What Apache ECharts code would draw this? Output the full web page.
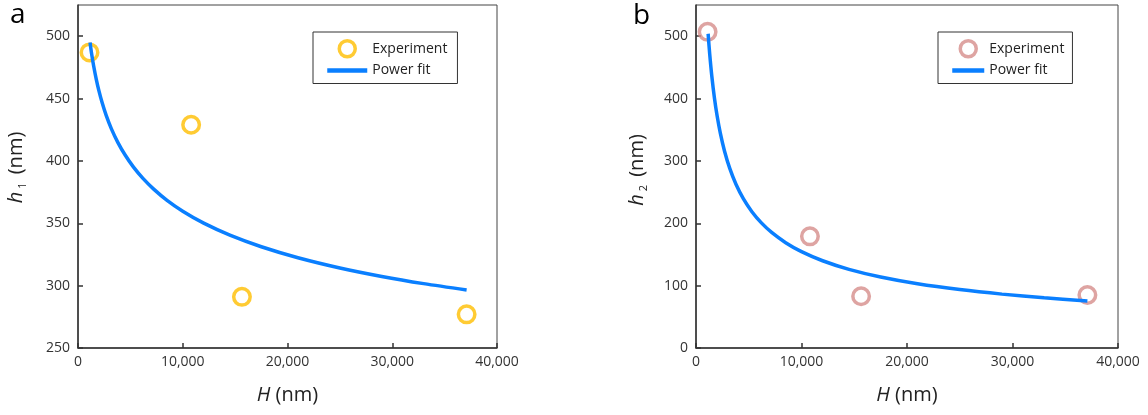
<!DOCTYPE html>
<html>
<head>
<meta charset="utf-8">
<script src="https://cdn.jsdelivr.net/npm/echarts@6/dist/echarts.min.js"></script>
<style>
html,body{margin:0;padding:0;background:#fff;}
#chart{width:1148px;height:415px;}
</style>
</head>
<body>
<div id="chart"></div>
<script>
// ---- data ----
const H_EXP = [1100, 10800, 15650, 37100];          // H (nm), experiment points
const H1_EXP = [487, 429, 291, 277];                // panel a, h1 (nm)
const H2_EXP = [507, 179, 83, 85];                  // panel b, h2 (nm)

const H_FIT = [1150, 1300, 1500, 1750, 2000, 2300, 2700, 3200, 3800, 4500, 5300, 6200, 7200, 8500, 10000, 12000, 14500, 17500, 21000, 25000, 29000, 33000, 37100];
const H1_FIT = [495, 486, 475.9, 465.2, 456.1, 446.8, 436.3, 425.5, 414.9, 404.7, 395, 386, 377.6, 368.4, 359.7, 350.1, 340.5, 331.2, 322.4, 314.2, 307.4, 301.6, 296.5];
const H2_FIT = [503.9, 471.2, 435.8, 400.5, 372.3, 345, 316, 288, 262.2, 239.1, 218.6, 200.6, 184.9, 168.9, 154.5, 139.9, 126.1, 113.8, 103, 93.7, 86.4, 80.5, 75.5];

const X_TICKS = {min: 0, max: 40000, interval: 10000};
const Y1_TICKS = {min: 250, max: 525, interval: 50};
const Y2_TICKS = {min: 0, max: 550, interval: 100};

const LABELS = ['Experiment', 'Power fit'];
const PANEL_LETTERS = ['a', 'b'];

const FONT = "'Open Sans', 'Noto Sans', sans-serif";
const pair = (xs, ys) => xs.map((x, i) => [x, ys[i]]);

const chart = echarts.init(document.getElementById('chart'), null, {renderer: 'canvas'});

function xAxis(gridIndex) {
  return {
    type: 'value', gridIndex,
    min: X_TICKS.min, max: X_TICKS.max, interval: X_TICKS.interval,
    name: '{i|H} (nm)', nameLocation: 'middle', nameGap: 37,
    nameTextStyle: {fontFamily: FONT, fontSize: 20, color: '#222',
      rich: {i: {fontFamily: FONT, fontSize: 20, fontStyle: 'italic', color: '#222'}}},
    axisLine: {show: true, onZero: false, lineStyle: {color: '#333', width: 1.5}},
    axisTick: {show: true, inside: true, length: 5, lineStyle: {color: '#333', width: 1.5}},
    axisLabel: {fontFamily: FONT, fontSize: 14, color: '#333', margin: 7,
      formatter: v => v.toLocaleString('en-US')},
    splitLine: {show: false}
  };
}
function yAxis(gridIndex, t, sub, gap, shift) {
  return {
    type: 'value', gridIndex,
    min: t.min, max: t.max, interval: t.interval,
    name: '{i|h}{s|' + sub + '} (nm)', nameLocation: 'middle', nameGap: gap, nameRotate: 90,
    nameTextStyle: {fontFamily: FONT, fontSize: 20, color: '#222', padding: [0, 0, 0, shift],
      rich: {
        i: {fontFamily: FONT, fontSize: 20, fontStyle: 'italic', color: '#222'},
        s: {fontFamily: FONT, fontSize: 11, color: '#222', padding: [12, 3, 0, 3]}
      }},
    axisLine: {show: true, onZero: false, lineStyle: {color: '#333', width: 1.5}},
    axisTick: {show: true, inside: true, length: 5, lineStyle: {color: '#333', width: 1.5}},
    axisLabel: {fontFamily: FONT, fontSize: 14, color: '#333', margin: 8, showMaxLabel: false},
    splitLine: {show: false}
  };
}

const YELLOW = '#FFBE00';
const PINK = '#D68D8B';
const BLUE = '#0A7FFF';

function legend(left, top, suffix, color, itemWidth, pad) {
  return {
    orient: 'vertical', left, top,
    itemWidth, itemHeight: 16, itemGap: 5,
    padding: pad,
    borderColor: '#333', borderWidth: 1,
    textStyle: {fontFamily: FONT, fontSize: 14, color: '#222'},
    formatter: n => n.replace(suffix, ''),
    data: [
      {name: LABELS[0] + suffix, icon: 'circle',
        itemStyle: {color: 'rgba(0,0,0,0)', borderColor: color, borderWidth: 3.5}},
      {name: LABELS[1] + suffix,
        itemStyle: {color: 'rgba(0,0,0,0)', borderColor: 'rgba(0,0,0,0)', borderWidth: 0, opacity: 0},
        lineStyle: {color: BLUE, width: 4.5}}
    ]
  };
}

const option = {
  animation: false,
  backgroundColor: '#fff',
  grid: [
    {left: 78, right: 651, top: 5, bottom: 67, show: true, borderColor: '#444', borderWidth: 1},
    {left: 696, right: 30, top: 5, bottom: 67, show: true, borderColor: '#444', borderWidth: 1}
  ],
  xAxis: [xAxis(0), xAxis(1)],
  yAxis: [yAxis(0, Y1_TICKS, '1', 50, 18), yAxis(1, Y2_TICKS, '2', 47, 13)],
  legend: [
    legend(313, 32, '#a', YELLOW, 40, [7, 10, 6, 12]),
    legend(938, 32, '#b', PINK, 32, [7, 8, 6, 12])
  ],
  graphic: [
    {type: 'text', left: 10, top: 1, style: {text: PANEL_LETTERS[0], font: '28px ' + FONT, fill: '#000'}},
    {type: 'text', left: 633, top: 2, style: {text: PANEL_LETTERS[1], font: '28px ' + FONT, fill: '#000'}}
  ],
  series: [
    {name: LABELS[0] + '#a', type: 'scatter', xAxisIndex: 0, yAxisIndex: 0,
      data: pair(H_EXP, H1_EXP), symbol: 'circle', symbolSize: 16.5,
      itemStyle: {color: 'rgba(0,0,0,0)', borderColor: YELLOW, borderWidth: 3.5}},
    {name: LABELS[1] + '#a', type: 'line', xAxisIndex: 0, yAxisIndex: 0,
      data: pair(H_FIT, H1_FIT), symbol: 'none', smooth: 0.3,
      lineStyle: {color: BLUE, width: 3.5}, itemStyle: {color: BLUE}},
    {name: LABELS[0] + '#b', type: 'scatter', xAxisIndex: 1, yAxisIndex: 1,
      data: pair(H_EXP, H2_EXP), symbol: 'circle', symbolSize: 16.5,
      itemStyle: {color: 'rgba(0,0,0,0)', borderColor: PINK, borderWidth: 3.5}},
    {name: LABELS[1] + '#b', type: 'line', xAxisIndex: 1, yAxisIndex: 1,
      data: pair(H_FIT, H2_FIT), symbol: 'none', smooth: 0.3,
      lineStyle: {color: BLUE, width: 3.5}, itemStyle: {color: BLUE}}
  ]
};
chart.setOption(option);
</script>
</body>
</html>
